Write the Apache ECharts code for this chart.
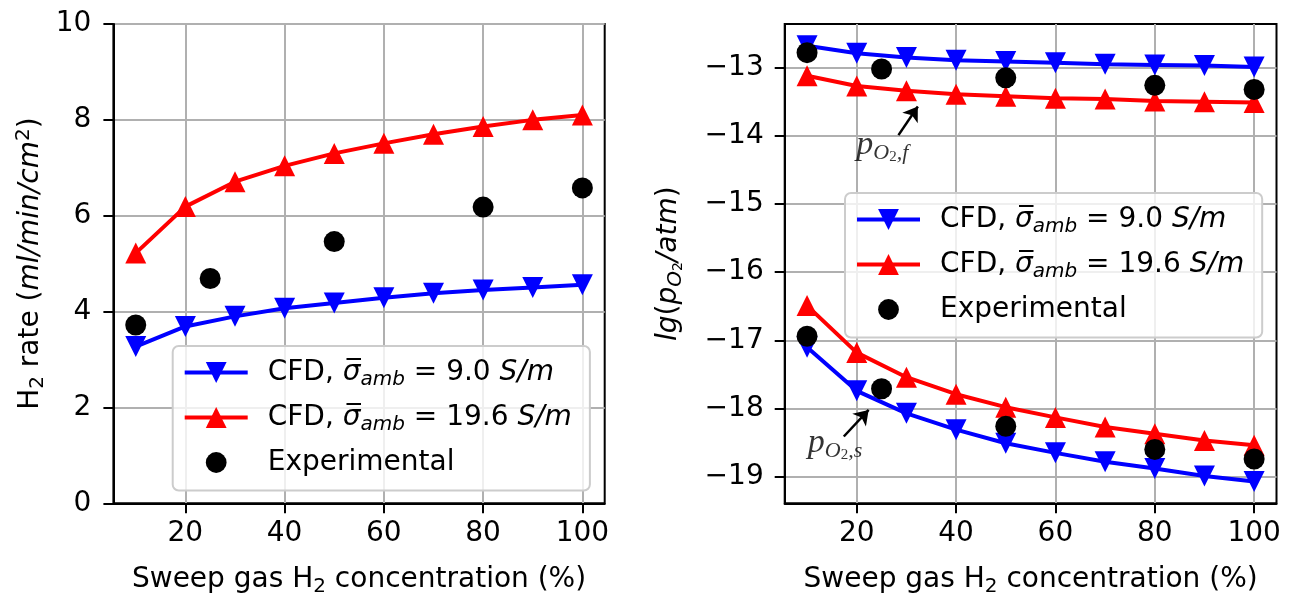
<!DOCTYPE html>
<html><head><meta charset="utf-8">
<script src="https://cdn.jsdelivr.net/npm/echarts@6/dist/echarts.min.js"></script>
<style>html,body{margin:0;padding:0;background:#fff}#c{width:1291px;height:597px}</style>
</head><body><div id="c"></div>
<script>
// ---------- data ----------
const concentrations = [10, 20, 30, 40, 50, 60, 70, 80, 90, 100];
const expConcentrations = [10, 25, 50, 80, 100];

const rateSigma9  = [3.27, 3.69, 3.90, 4.07, 4.18, 4.29, 4.38, 4.45, 4.50, 4.56];
const rateSigma19 = [5.22, 6.19, 6.71, 7.04, 7.30, 7.51, 7.70, 7.86, 8.00, 8.10];
const rateExp     = [3.72, 4.69, 5.46, 6.18, 6.58];

const lgFeedSigma9  = [-12.68, -12.79, -12.85, -12.89, -12.91, -12.93, -12.95, -12.96, -12.97, -12.99];
const lgFeedSigma19 = [-13.12, -13.27, -13.34, -13.39, -13.42, -13.45, -13.46, -13.49, -13.50, -13.51];
const lgFeedExp     = [-12.78, -13.02, -13.15, -13.26, -13.32];

const lgSweepSigma9  = [-17.10, -17.74, -18.07, -18.31, -18.51, -18.65, -18.78, -18.88, -18.99, -19.07];
const lgSweepSigma19 = [-16.49, -17.18, -17.54, -17.79, -17.98, -18.13, -18.27, -18.37, -18.47, -18.54];
const lgSweepExp     = [-16.94, -17.71, -18.26, -18.60, -18.74];

const xTicks = [20, 40, 60, 80, 100];
const yTicksRate = [0, 2, 4, 6, 8, 10];
const yTicksLg = [-19, -18, -17, -16, -15, -14, -13];

const seriesNames = ['CFD, sigma 9.0', 'CFD, sigma 19.6', 'Experimental'];

// annotation anchors (data coordinates of right panel)
const annotFeedText = [19.8, -14.13];
const annotSweepText = [10.05, -18.50];
const annotFeedArrow = [[28.4, -13.99], [32.3, -13.57]];
const annotSweepArrow = [[17.4, -18.41], [22.4, -18.02]];

// ---------- styles ----------
const F = 'DejaVu Sans';
const FS = 28;
const rich = {
  n:   {fontFamily: F, fontSize: FS, lineHeight: 34, color: '#000'},
  i:   {fontFamily: F, fontSize: FS, lineHeight: 34, fontStyle: 'italic', color: '#000'},
  sub: {fontFamily: F, fontSize: 20, lineHeight: 20, fontStyle: 'italic', verticalAlign: 'bottom', color: '#000'},
  subn:{fontFamily: F, fontSize: 20, lineHeight: 20, verticalAlign: 'bottom', color: '#000'},
  subsub:{fontFamily: F, fontSize: 14, lineHeight: 13, verticalAlign: 'bottom', color: '#000'},
  sup: {fontFamily: F, fontSize: 20, lineHeight: 20, verticalAlign: 'top', color: '#000'}
};
const SERIF = 'Liberation Serif';
const annRich = {
  p:  {fontFamily: SERIF, fontSize: 34, lineHeight: 40, fontStyle: 'italic', color: '#000'},
  o:  {fontFamily: SERIF, fontSize: 22, lineHeight: 15, fontStyle: 'italic', verticalAlign: 'bottom', color: '#000'},
  t:  {fontFamily: SERIF, fontSize: 15, lineHeight: 9, verticalAlign: 'bottom', color: '#000'},
  c:  {fontFamily: SERIF, fontSize: 22, lineHeight: 15, fontStyle: 'italic', verticalAlign: 'bottom', color: '#000'}
};
const legendLabels = {
  [seriesNames[0]]: '{n|CFD, }{i|σ\u0305}{sub|amb}{n| = 9.0 }{i|S/m}',
  [seriesNames[1]]: '{n|CFD, }{i|σ\u0305}{sub|amb}{n| = 19.6 }{i|S/m}',
  [seriesNames[2]]: '{n|Experimental}'
};
const BLUE = '#0000ff', RED = '#ff0000', BLACK = '#000000';
const pts = (xs, ys) => xs.map((x, i) => [x, ys[i]]);
const minus = v => String(v).replace('-', '\u2212');

function xAxisCfg(gi) {
  return {
    type: 'value', gridIndex: gi, min: 5.5, max: 104.5,
    name: '{n|Sweep gas H}{subn|2}{n| concentration (%)}',
    nameLocation: 'middle', nameGap: 59, nameMoveOverlap: false,
    nameTextStyle: {rich: rich, color: '#000'},
    axisLine: {show: true, onZero: false, lineStyle: {color: '#000', width: 2}},
    axisTick: {show: true, inside: false, length: 10, customValues: xTicks, lineStyle: {color: '#000', width: 2}},
    axisLabel: {show: true, customValues: xTicks, margin: 16, fontFamily: F, fontSize: FS, color: '#000'},
    splitLine: {show: true, lineStyle: {color: '#b0b0b0', width: 2}}
  };
}
function lineSeries(name, xi, data, color, down) {
  return {
    type: 'line', name: name, xAxisIndex: xi, yAxisIndex: xi, data: data,
    symbol: 'triangle', symbolRotate: down ? 180 : 0, symbolSize: 21, showAllSymbol: true,
    lineStyle: {color: color, width: 4}, itemStyle: {color: color},
    z: 2, animation: false, silent: true, emphasis: {disabled: true}
  };
}
function expSeries(xi, data) {
  return {
    type: 'line', name: seriesNames[2], xAxisIndex: xi, yAxisIndex: xi, data: data,
    symbol: 'circle', symbolSize: 21, showAllSymbol: true,
    lineStyle: {width: 0, opacity: 0}, itemStyle: {color: BLACK},
    z: 3, animation: false, silent: true, emphasis: {disabled: true}
  };
}
function legendCfg(left, top) {
  return {
    orient: 'vertical', left: left, top: top,
    data: seriesNames,
    itemWidth: 63, itemHeight: 26, itemGap: 14,
    padding: [12.5, 18, 14, 10],
    lineStyle: {width: 4},
    backgroundColor: 'rgba(255,255,255,0.8)', borderColor: '#cccccc', borderWidth: 2, borderRadius: 6,
    formatter: name => legendLabels[name],
    textStyle: {rich: rich, color: '#000', fontFamily: F, fontSize: FS, padding: [0, 0, 0, 15]},
    selectedMode: false
  };
}

const chart = echarts.init(document.getElementById('c'), null, {renderer: 'canvas'});
chart.setOption({
  animation: false,
  backgroundColor: '#fff',
  grid: [
    {left: 113.4, top: 24, width: 491.3, height: 479.3, outerBoundsMode: 'none', containLabel: false, show: true, borderColor: '#000', borderWidth: 2, backgroundColor: 'transparent'},
    {left: 784.7, top: 24, width: 491.8, height: 479.3, outerBoundsMode: 'none', containLabel: false, show: true, borderColor: '#000', borderWidth: 2, backgroundColor: 'transparent'}
  ],
  xAxis: [xAxisCfg(0), xAxisCfg(1)],
  yAxis: [
    {
      type: 'value', gridIndex: 0, min: 0, max: 10, interval: 2,
      name: '{n|H}{subn|2}{n| rate (}{i|ml/min/cm}{sup|2}{n|)}',
      nameLocation: 'middle', nameRotate: 90, nameGap: 66, nameMoveOverlap: false,
      nameTextStyle: {rich: rich, color: '#000'},
      axisLine: {show: true, onZero: false, lineStyle: {color: '#000', width: 2}},
      axisTick: {show: true, length: 10, lineStyle: {color: '#000', width: 2}},
      axisLabel: {margin: 22, fontFamily: F, fontSize: FS, color: '#000'},
      splitLine: {show: true, lineStyle: {color: '#b0b0b0', width: 2}}
    },
    {
      type: 'value', gridIndex: 1, min: -19.39, max: -12.36,
      name: '{i|lg}{n|(}{i|p}{sub|O}{subsub|2}{i|/atm}{n|)}',
      nameLocation: 'middle', nameRotate: 90, nameGap: 99, nameMoveOverlap: false,
      nameTextStyle: {rich: rich, color: '#000'},
      axisLine: {show: true, onZero: false, lineStyle: {color: '#000', width: 2}},
      axisTick: {show: true, length: 10, customValues: yTicksLg, lineStyle: {color: '#000', width: 2}},
      axisLabel: {customValues: yTicksLg, margin: 21, fontFamily: F, fontSize: FS, color: '#000', formatter: minus},
      splitLine: {show: true, lineStyle: {color: '#b0b0b0', width: 2}}
    }
  ],
  legend: [legendCfg(172.7, 346), legendCfg(845, 193)],
  series: [
    lineSeries(seriesNames[0], 0, pts(concentrations, rateSigma9), BLUE, true),
    lineSeries(seriesNames[1], 0, pts(concentrations, rateSigma19), RED, false),
    expSeries(0, pts(expConcentrations, rateExp)),
    lineSeries(seriesNames[0], 1, pts(concentrations, lgFeedSigma9), BLUE, true),
    lineSeries(seriesNames[1], 1, pts(concentrations, lgFeedSigma19), RED, false),
    lineSeries(seriesNames[0], 1, pts(concentrations, lgSweepSigma9), BLUE, true),
    lineSeries(seriesNames[1], 1, pts(concentrations, lgSweepSigma19), RED, false),
    expSeries(1, pts(expConcentrations, lgFeedExp)),
    expSeries(1, pts(expConcentrations, lgSweepExp)),
    {
      type: 'scatter', name: 'annotations', xAxisIndex: 1, yAxisIndex: 1,
      data: [annotFeedText, annotSweepText],
      symbolSize: 1, itemStyle: {color: 'rgba(0,0,0,0)'},
      silent: true, animation: false, z: 5,
      label: {
        show: true, position: 'right', distance: 0,
        formatter: p => p.dataIndex === 0 ? '{p|p}{o|O}{t|2}{c|,f}' : '{p|p}{o|O}{t|2}{c|,s}',
        rich: annRich
      },
      markLine: {
        silent: true, animation: false,
        symbol: ['none', 'arrow'], symbolSize: 14,
        lineStyle: {color: '#000', width: 2.5, type: 'solid', opacity: 1},
        itemStyle: {color: '#000'},
        label: {show: false},
        emphasis: {disabled: true},
        data: [
          [{coord: annotFeedArrow[0]}, {coord: annotFeedArrow[1]}],
          [{coord: annotSweepArrow[0]}, {coord: annotSweepArrow[1]}]
        ]
      }
    }
  ]
});
</script>
</body></html>
